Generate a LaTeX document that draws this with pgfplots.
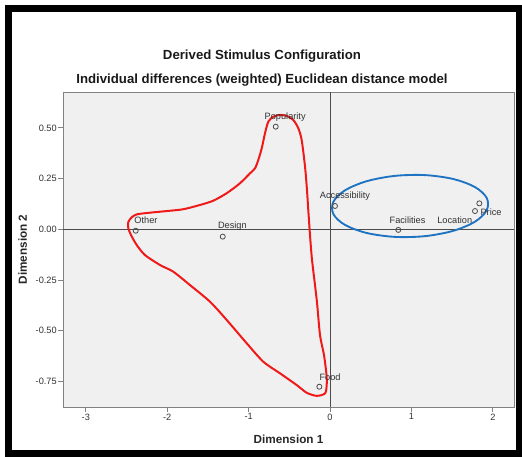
\documentclass[border=0pt]{standalone}
\usepackage{fontspec}
\setmainfont{Liberation Sans}
\usepackage{pgfplots}
\pgfplotsset{compat=1.18}
\usepackage{pgfplotstable}
\definecolor{plotbg}{RGB}{240,240,240}
\definecolor{txt}{RGB}{50,50,50}
\definecolor{bordergray}{RGB}{130,130,130}
\definecolor{refline}{RGB}{75,75,75}
\definecolor{redline}{RGB}{240,25,25}
\definecolor{blueline}{RGB}{30,115,195}

\pgfplotstableread{
x y label dx dy
-0.667 0.506 Popularity 7.1 7.5
0.061 0.115 Accessibility 7.5 7.5
0.839 -0.003 Facilities 6.9 7.5
1.781 0.090 Location -15.2 -6.75
1.834 0.128 Price 8.8 -6.75
-2.387 -0.007 Other 7.7 8.0
-1.318 -0.036 Design 7.2 7.5
-0.131 -0.776 Food 8.0 7.3
}\points

\begin{document}
\begin{tikzpicture}
\path[use as bounding box] (0,0) rectangle (391.5pt,342.75pt);
\draw[line width=4.9pt, black] (6.375pt,2.625pt) rectangle (389.25pt,336.375pt);
\node[font=\bfseries\fontsize{9.9}{12}\selectfont, text=black!90, anchor=center] at (196.5pt,300.5pt) {Derived Stimulus Configuration};
\node[font=\bfseries\fontsize{9.9}{12}\selectfont, text=black!90, anchor=center] at (196.5pt,282.4pt) {Individual differences (weighted) Euclidean distance model};
\begin{axis}[
  at={(47.25pt,37.5pt)}, anchor=south west,
  scale only axis, width=338.25pt, height=236.25pt,
  xmin=-3.28, xmax=2.26, ymin=-0.876, ymax=0.677,
  axis background/.style={fill=plotbg},
  axis line style={draw=bordergray, line width=0.7pt},
  xtick={-3,-2,-1,0,1,2}, xticklabels={-3,-2,-1,0,1,2},
  ytick={-0.75,-0.5,-0.25,0,0.25,0.5},
  yticklabels={-0.75,-0.50,-0.25,0.00,0.25,0.50},
  xtick pos=bottom, ytick pos=left,
  tick align=outside, major tick length=3.75pt,
  tick style={draw=bordergray, line width=0.7pt},
  ticklabel style={font=\fontsize{6.9}{8}\selectfont, text=txt},
  xticklabel style={inner sep=1pt},
  yticklabel style={inner sep=0.8pt},
  xlabel={Dimension 1}, ylabel={Dimension 2},
  label style={font=\bfseries\fontsize{8.8}{10}\selectfont, text=black!85},
  xlabel style={at={(axis description cs:0.5,-0.1016)}, anchor=center},
  ylabel style={at={(axis description cs:-0.0893,0.5)}, anchor=center},
  clip=true,
]
\addplot[refline, line width=0.65pt, forget plot] coordinates {(0,-0.876) (0,0.677)};
\addplot[refline, line width=0.65pt, forget plot] coordinates {(-3.28,0) (2.26,0)};

\addplot[only marks, mark=o, mark size=1.9pt, mark options={draw=refline, line width=0.6pt},
  nodes near coords, point meta=explicit symbolic,
  visualization depends on={\thisrow{dx} \as \dx},
  visualization depends on={\thisrow{dy} \as \dy},
  every node near coord/.append style={anchor=center, xshift=\dx*1pt, yshift=\dy*1pt,
    font=\fontsize{6.9}{8}\selectfont, text=txt, inner sep=0pt}]
  table[x=x, y=y, meta=label] {\points};

\addplot[redline, line width=1.5pt, smooth cycle, tension=0.45] coordinates {
(-2.478,0.036) (-2.436,0.059) (-2.371,0.074) (-2.211,0.082) (-2.006,0.090)
(-1.802,0.099) (-1.597,0.120) (-1.434,0.141) (-1.269,0.178) (-1.106,0.227)
(-0.983,0.276) (-0.921,0.301) (-0.881,0.342) (-0.839,0.399) (-0.799,0.473)
(-0.758,0.531) (-0.697,0.555) (-0.614,0.564) (-0.532,0.559) (-0.451,0.539)
(-0.389,0.498) (-0.348,0.440) (-0.307,0.309) (-0.283,0.194) (-0.267,0.095)
(-0.246,-0.028) (-0.221,-0.151) (-0.163,-0.349) (-0.123,-0.521) (-0.074,-0.620)
(-0.043,-0.718) (-0.041,-0.768) (-0.061,-0.809) (-0.163,-0.821) (-0.286,-0.806)
(-0.409,-0.768) (-0.614,-0.710) (-0.819,-0.653) (-1.023,-0.562) (-1.269,-0.447)
(-1.474,-0.357) (-1.720,-0.275) (-1.925,-0.209) (-2.088,-0.176) (-2.273,-0.127)
(-2.375,-0.077) (-2.445,-0.028) (-2.478,0.006)
};

\addplot[blueline, line width=1.4pt, smooth cycle, tension=0.7] coordinates {
(1.941,0.1245) (1.868,0.1823) (1.660,0.2298) (1.350,0.2598) (0.983,0.2678)
(0.616,0.2524) (0.305,0.2162) (0.097,0.1645) (0.025,0.1053) (0.097,0.0475)
(0.305,0.0000) (0.616,-0.0300) (0.983,-0.0380) (1.350,-0.0226) (1.660,0.0136)
(1.868,0.0652)
};
\end{axis}
\end{tikzpicture}
\end{document}
